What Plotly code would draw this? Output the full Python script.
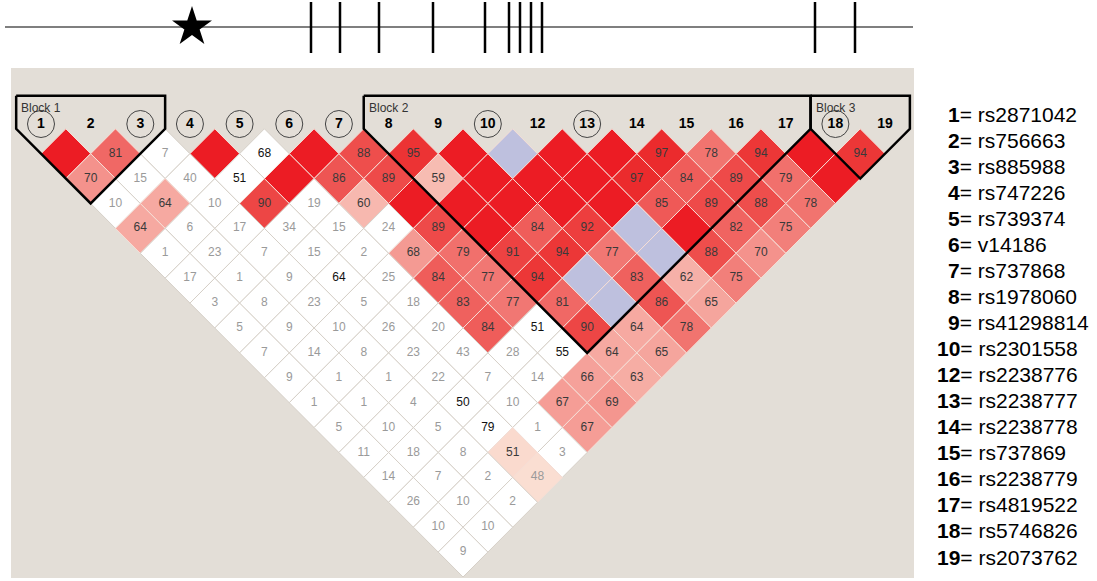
import numpy as np
import plotly.graph_objects as go

# SNP markers (no 11 in the panel)
snp_labels = ["1", "2", "3", "4", "5", "6", "7", "8", "9", "10",
              "12", "13", "14", "15", "16", "17", "18", "19"]
rs_ids = ["rs2871042", "rs756663", "rs885988", "rs747226", "rs739374", "v14186",
          "rs737868", "rs1978060", "rs41298814", "rs2301558", "rs2238776",
          "rs2238777", "rs2238778", "rs737869", "rs2238779", "rs4819522",
          "rs5746826", "rs2073762"]
tag_snps = ["1", "3", "4", "5", "6", "7", "10", "13", "18"]

# D' x100, one list per marker distance (row 1 = adjacent pairs). 100 = complete LD
dprime_rows = [
    [100, 81, 7, 100, 68, 100, 88, 95, 100, 100, 100, 100, 97, 78, 94, 100, 94],
    [70, 15, 40, 51, 100, 86, 89, 59, 100, 100, 100, 97, 84, 89, 79, 100],
    [10, 64, 10, 90, 19, 60, 100, 100, 100, 100, 100, 85, 89, 88, 78],
    [64, 6, 17, 34, 15, 24, 89, 100, 84, 92, 100, 100, 82, 75],
    [1, 23, 7, 15, 2, 68, 79, 91, 94, 77, 100, 88, 70],
    [17, 1, 9, 64, 25, 84, 77, 94, 100, 83, 62, 75],
    [3, 8, 23, 5, 18, 83, 77, 81, 100, 86, 65],
    [5, 9, 10, 26, 20, 84, 51, 90, 64, 78],
    [7, 14, 8, 23, 43, 28, 55, 64, 65],
    [9, 1, 1, 22, 7, 14, 66, 63],
    [1, 1, 4, 50, 10, 67, 69],
    [5, 10, 5, 79, 1, 67],
    [11, 18, 8, 51, 3],
    [14, 7, 2, 48],
    [26, 10, 2],
    [10, 10],
    [9],
]
# 1 = LOD >= 2
lod_rows = [
    [1, 1, 0, 1, 0, 1, 1, 1, 1, 0, 1, 1, 1, 1, 1, 1, 1],
    [1, 0, 0, 0, 1, 1, 1, 1, 1, 1, 1, 1, 1, 1, 1, 1],
    [0, 1, 0, 1, 0, 1, 1, 1, 1, 1, 1, 1, 1, 1, 1],
    [1, 0, 0, 0, 0, 0, 1, 1, 1, 1, 0, 1, 1, 1],
    [0, 0, 0, 0, 0, 1, 1, 1, 1, 1, 0, 1, 1],
    [0, 0, 0, 0, 0, 1, 1, 1, 0, 1, 1, 1],
    [0, 0, 0, 0, 0, 1, 1, 1, 0, 1, 1],
    [0, 0, 0, 0, 0, 1, 0, 1, 1, 1],
    [0, 0, 0, 0, 0, 0, 0, 1, 1],
    [0, 0, 0, 0, 0, 0, 1, 1],
    [0, 0, 0, 0, 0, 1, 1],
    [0, 0, 0, 0, 0, 1],
    [0, 0, 0, 1, 0],
    [0, 0, 0, 1],
    [0, 0, 0],
    [0, 0],
    [0],
]

blocks = [("Block 1", "1", "3"), ("Block 2", "8", "17"), ("Block 3", "18", "19")]

# physical map track (relative positions along the region)
map_pos = [311, 340, 379, 433, 485, 509, 520, 531, 542, 815, 855]
star_pos = [192]

W, H = 1097, 581
# pixel calibration of the LD triangle
X0, XU = 41.0, 49.65     # pixel of marker 1, pixels per marker
Y0, YU = 128.8, 49.8     # pixel of diamond tops, pixels per unit


def ypx(p):
    return (Y0 - p) / YU


def cell_color(d, strong):
    if not strong:
        return "rgb(190,192,222)" if d == 100 else "white"
    if d == 100:
        return "rgb(236,28,36)"
    f = min(2 * (1 - d / 100.0), 1.0)
    a = np.array([234, 32, 34])
    b = np.array([250, 222, 210])
    c = a + (b - a) * f
    return "rgb(%d,%d,%d)" % tuple(c.round().astype(int))


fig = go.Figure()
shapes = []

# beige panel behind the triangle
shapes.append(dict(type="rect", xref="x", yref="y", layer="below",
                   x0=-0.604, x1=len(snp_labels) - 1 + 0.583,
                   y0=-(len(snp_labels) - 1) / 2 - 0.52, y1=ypx(68),
                   fillcolor="rgb(227,222,215)", line_width=0))

tx, ty, tt, tc = [], [], [], []
for r, (drow, lrow) in enumerate(zip(dprime_rows, lod_rows), start=1):
    for i, (d, s) in enumerate(zip(drow, lrow)):
        cx = i + r / 2.0
        cy = -r / 2.0
        h = 0.5
        path = f"M {cx-h},{cy} L {cx},{cy+h} L {cx+h},{cy} L {cx},{cy-h} Z"
        fill = cell_color(d, s)
        edge = "rgb(246,222,214)" if (s or d == 100) else "rgb(214,208,200)"
        shapes.append(dict(type="path", path=path, xref="x", yref="y", layer="below",
                           fillcolor=fill, line=dict(color=edge, width=1)))
        if d < 100:
            tx.append(cx)
            ty.append(cy)
            tt.append(str(d))
            if d >= 50:
                tc.append("#3a3a3a" if s else "#111111")
            else:
                tc.append("#9a9a9a")

fig.add_trace(go.Scatter(x=tx, y=ty, text=tt, mode="text", hoverinfo="skip",
                         textfont=dict(family="Liberation Sans, Arial", size=12, color=tc)))

# haplotype block outlines
top = ypx(95.7)
for name, a, b in blocks:
    i0, i1 = snp_labels.index(a), snp_labels.index(b)
    bx = [i0 - 0.5, i0 - 0.5, (i0 + i1) / 2, i1 + 0.5, i1 + 0.5, i0 - 0.5]
    by = [top, 0, -(i1 - i0) / 2 - 0.5, 0, top, top]
    fig.add_trace(go.Scatter(x=bx, y=by, mode="lines", hoverinfo="skip",
                             line=dict(color="black", width=2.5)))
    fig.add_annotation(x=i0 - 0.5 + 0.06, y=ypx(108), text=name, showarrow=False,
                       xanchor="left", yanchor="middle",
                       font=dict(family="Liberation Sans, Arial", size=12, color="#333"))

# marker labels, tag SNPs circled
idx = list(range(len(snp_labels)))
ly = ypx(124)
circ = [k for k in idx if snp_labels[k] in tag_snps]
fig.add_trace(go.Scatter(x=circ, y=[ly] * len(circ), mode="markers", hoverinfo="skip",
                         marker=dict(symbol="circle-open", size=27,
                                     line=dict(color="#444", width=1), color="#444")))
fig.add_trace(go.Scatter(x=idx, y=[ly] * len(idx), text=snp_labels, mode="text",
                         hoverinfo="skip",
                         textfont=dict(family="Liberation Sans, Arial", size=14, color="black",
                                       weight="bold")))

# physical map track on its own axes
fig.add_trace(go.Scatter(x=[5, 913], y=[27, 27], mode="lines", xaxis="x2", yaxis="y2",
                         hoverinfo="skip", line=dict(color="#555", width=1.5)))
tkx, tky = [], []
for p in map_pos:
    tkx += [p, p, None]
    tky += [2, 53, None]
fig.add_trace(go.Scatter(x=tkx, y=tky, mode="lines", xaxis="x2", yaxis="y2",
                         hoverinfo="skip", line=dict(color="black", width=2.5)))
fig.add_trace(go.Scatter(x=star_pos, y=[27], mode="markers", xaxis="x2", yaxis="y2",
                         hoverinfo="skip",
                         marker=dict(symbol="star", size=30, color="black", line_width=0)))

# marker key on the right: "=" lines up at one x, the bold number sits left of it
key_size = 21
digit_w = 0.556 * key_size
for k, (lab, rs) in enumerate(zip(snp_labels, rs_ids)):
    yp = 1 - (114 + 26.06 * k) / H
    fig.add_annotation(x=960 / W, y=yp, xref="paper", yref="paper",
                       text=f"<b>{lab}</b>= {rs}", showarrow=False,
                       xanchor="left", yanchor="middle",
                       xshift=-digit_w * len(lab) - 2,
                       font=dict(family="Liberation Sans, Arial", size=key_size, color="black"))

fig.update_layout(
    width=W, height=H,
    margin=dict(l=0, r=0, t=0, b=0),
    paper_bgcolor="white", plot_bgcolor="white",
    showlegend=False,
    shapes=shapes,
    xaxis=dict(range=[-X0 / XU, (W - X0) / XU], visible=False, fixedrange=True),
    yaxis=dict(range=[ypx(H), ypx(0)], visible=False, fixedrange=True),
    xaxis2=dict(range=[0, W], overlaying="x", anchor="y2", visible=False),
    yaxis2=dict(range=[H, 0], overlaying="y", anchor="x2", visible=False),
)

fig.write_html("out.html", config={"displayModeBar": False},
               post_script="document.body.style.margin='0';")
